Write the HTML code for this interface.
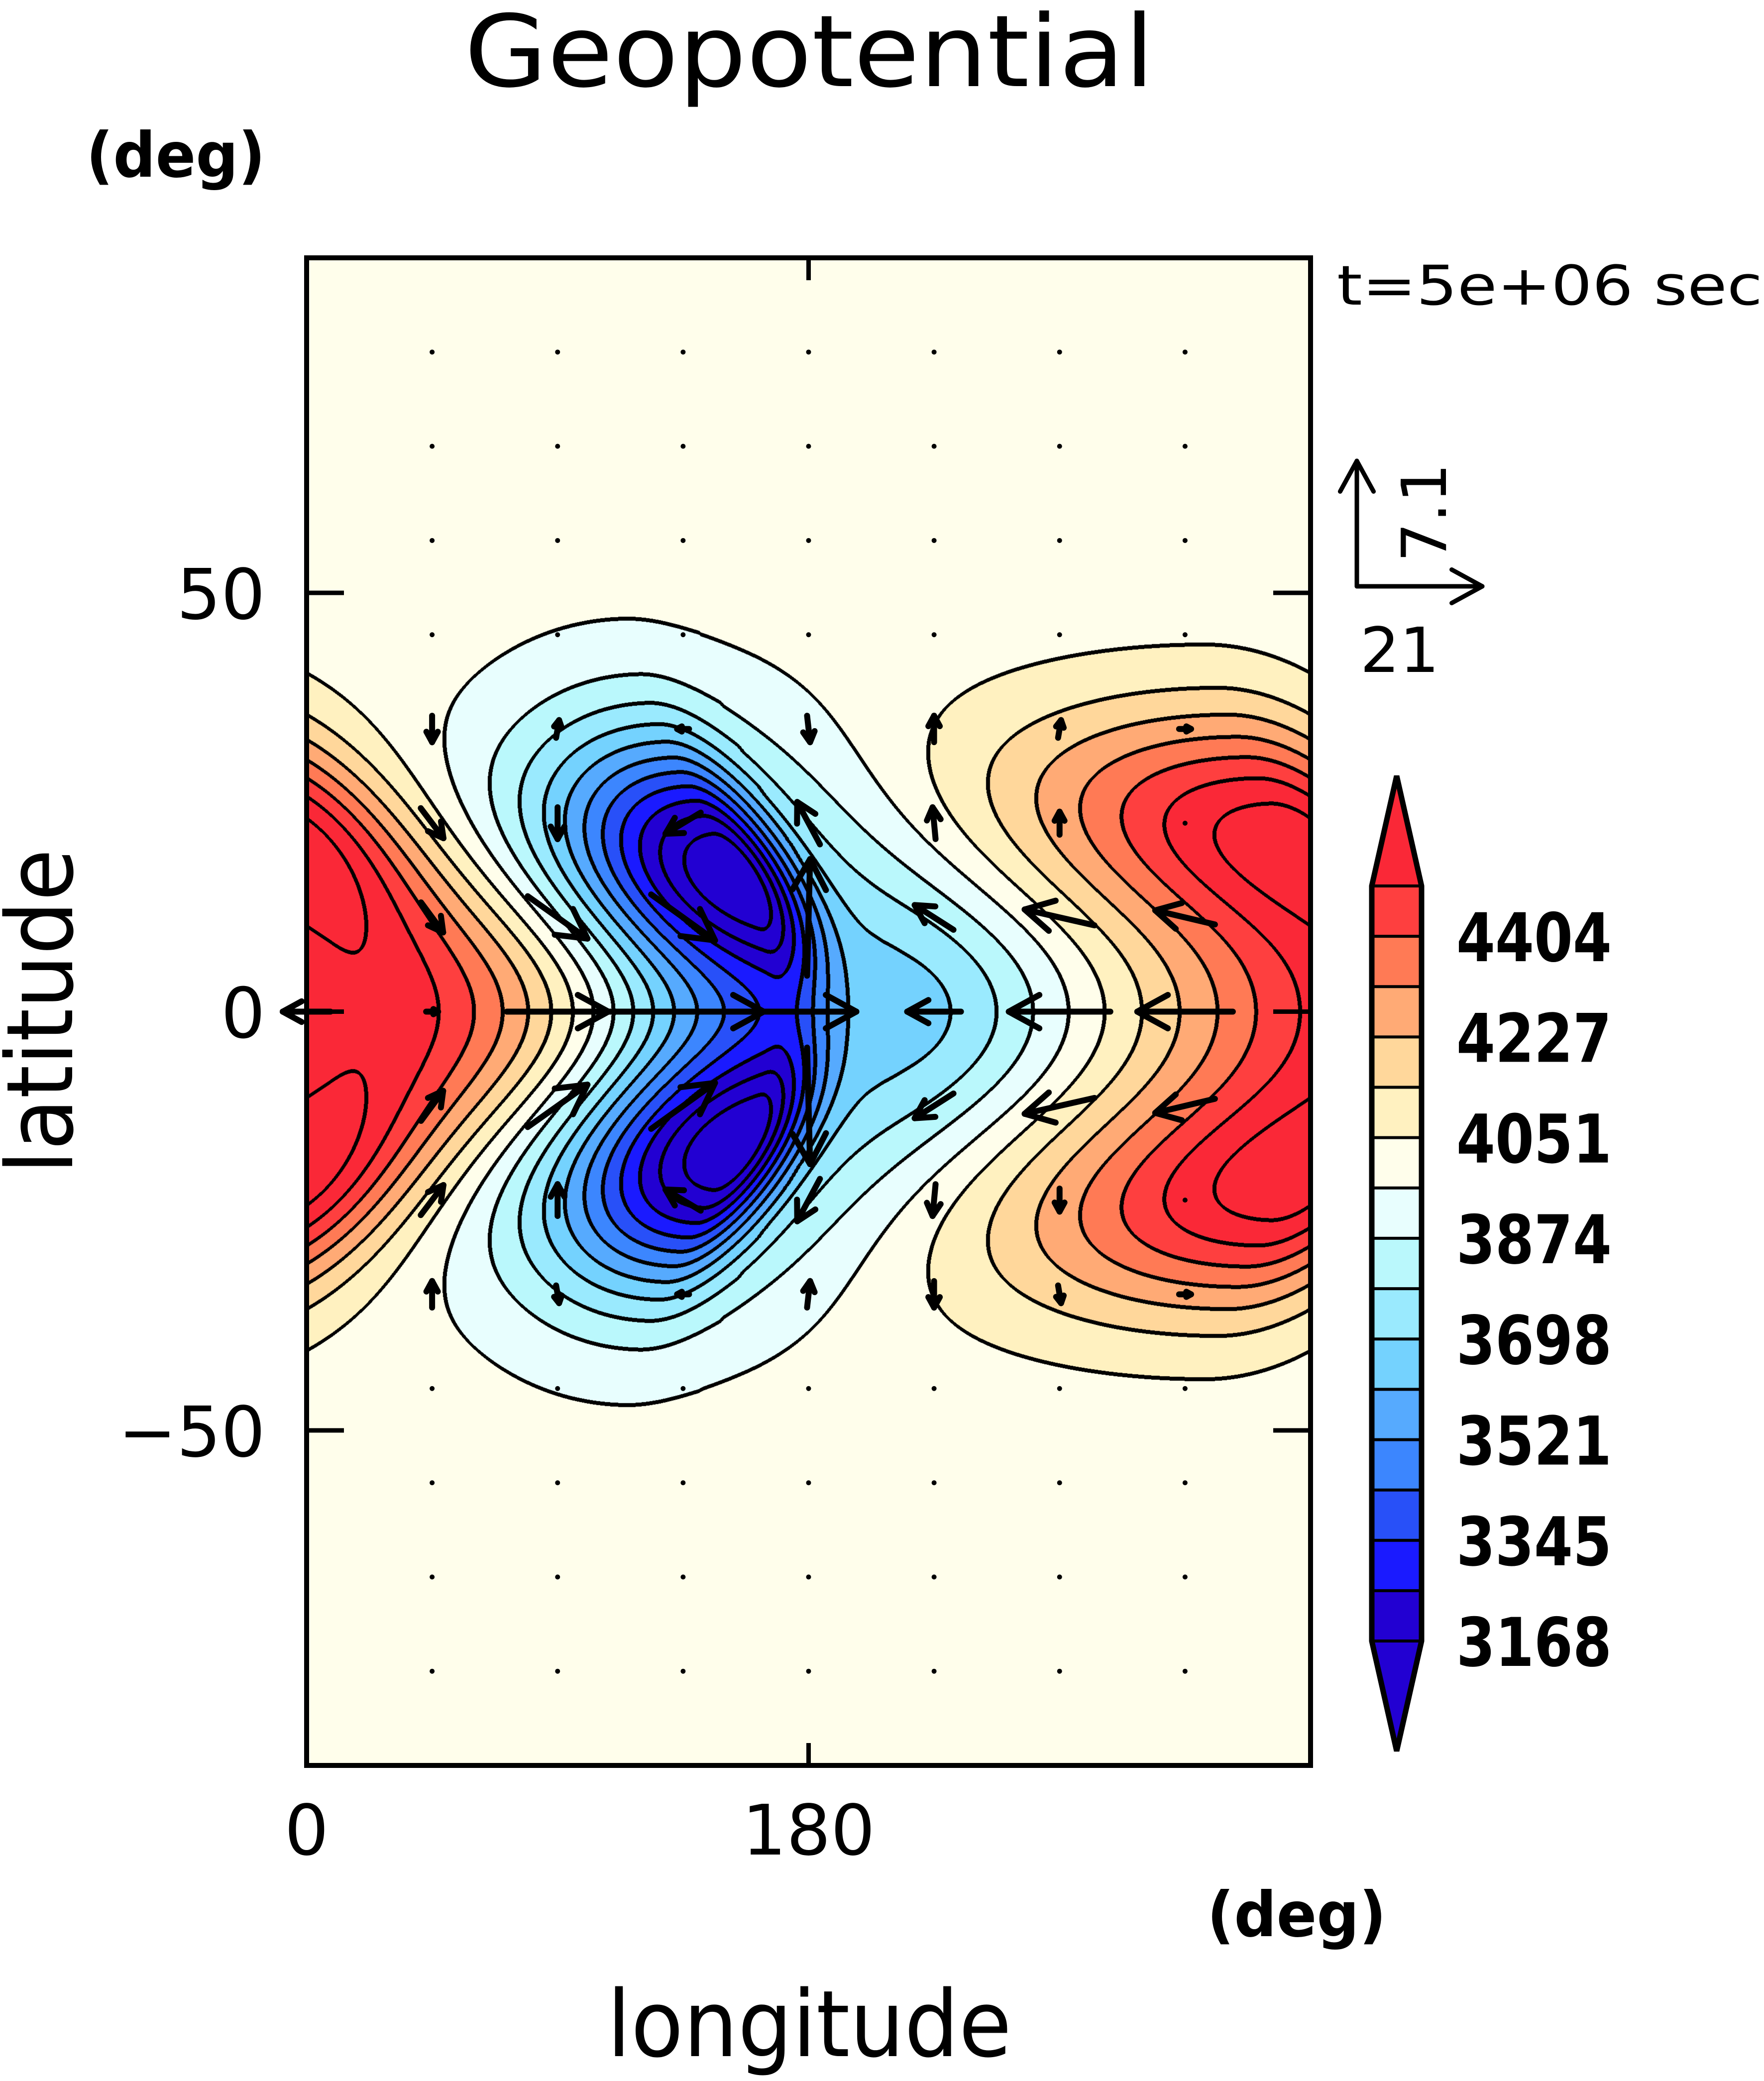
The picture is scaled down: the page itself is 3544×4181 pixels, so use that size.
<!DOCTYPE html>
<html><head><meta charset="utf-8">
<style>
html,body{margin:0;padding:0;background:#fff;}
#wrap{position:relative;width:3544px;height:4181px;overflow:hidden;background:#fff;}
#field{position:absolute;left:616px;top:518px;width:2017px;height:3029px;}
#ov{position:absolute;left:0;top:0;}
text{font-family:"DejaVu Sans","Liberation Sans",sans-serif;fill:#000;}
</style></head>
<body>
<div id="wrap">
<canvas id="field"></canvas>
<svg id="ov" width="3544" height="4181">
  <g id="vectors"></g>
  <rect x="616" y="518" width="2017" height="3029" fill="none" stroke="#000" stroke-width="10"/>
  <g id="ticks"></g>
  <text x="1626" y="173" font-size="200" text-anchor="middle" textLength="1386" lengthAdjust="spacingAndGlyphs">Geopotential</text>
  <text x="173" y="355" font-size="125" font-weight="bold" textLength="360" lengthAdjust="spacingAndGlyphs">(deg)</text>
  <text x="2686" y="612" font-size="110" textLength="855" lengthAdjust="spacingAndGlyphs">t=5e+06 sec</text>
  <text x="2425" y="3890" font-size="125" font-weight="bold" textLength="360" lengthAdjust="spacingAndGlyphs">(deg)</text>
  <text x="1626" y="4131" font-size="185" text-anchor="middle" textLength="813" lengthAdjust="spacingAndGlyphs">longitude</text>
  <text transform="translate(145,2032) rotate(-90)" font-size="185" text-anchor="middle" textLength="653" lengthAdjust="spacingAndGlyphs">latitude</text>
  <g id="reflegend"></g>
  <g id="cbar"></g>
</svg>
</div>
<script>
// ---- data ----
const BASE = 4000;
const TILT = 60, TILT_S = 22;
const blobLon  = [168, 170, 215, 30, 14];
const blobLat  = [15, 25, 0, 0, 22];
const blobAmp  = [-850, -210, -330, 482, 550];
const blobSLonW = [45, 35, 25, 55, 65];
const blobSLonE = [15, 45, 40, 52, 30];
const blobSLat = [10.5, 11, 12, 12, 10];
const bandLevels = [3168,3256,3345,3433,3521,3610,3698,3786,3874,3963,4051,4139,4227,4316,4404,4492];
const extraContours = [3080, 4580];
const bandColors = ["#2200d2","#2200d2","#1a1aff","#2850f8","#3c86fe","#56aafe","#74d2fe","#9aeafe","#baf8fc","#e8fefe","#fffeeb","#fff1c0","#ffd79b","#ffaa75","#ff7a55","#fe3f3f","#fa2837"];
const cbarLabels = ["4404","4227","4051","3874","3698","3521","3345","3168"];
const xTickVals = [0, 180];
const xTickLabels = ["0","180"];
const yTickVals = [50, 0, -50];
const yTickLabels = ["50","0","\u221250"];
const gridLons = [0,45,90,135,180,225,270,315];
const gridLats = [78.75,67.5,56.25,45,33.75,22.5,11.25,0];
// vectors (northern hemisphere + equator); southern mirrored with v negated
const vecLon = [0,45,90,135,180,225,270,315, 45,90,135,180,225,270,315, 45,90,135,180,225,270,315, 45,90,135,180,225,270,315];
const vecLat = [0,0,0,0,0,0,0,0, 11.25,11.25,11.25,11.25,11.25,11.25,11.25, 22.5,22.5,22.5,22.5,22.5,22.5,22.5, 33.75,33.75,33.75,33.75,33.75,33.75,33.75];
const vecU   = [-8,2,17,27,16,-9,-17,-16, 3.7,10,10.7,0.5,-6.5,-11.7,-10, 3.8,0,-5.9,-3.8,-0.5,0,0, 0,0.5,-2,0.5,0,0.5,2];
const vecV   = [0,0,0,0,0,0,0,0, -1.7,-2.4,-2.6,6.6,1.4,0.9,0.8, -1.7,-1.8,-1.2,2.4,1.8,1.3,-0.5, -1.5,1,0,-1.5,1.5,1,0];
const refU = 21, refV = 7.1;

// ---- axes ----
const PX0=616, PY0=518, PW=2017, PH=3029;
function xScale(lon){return PX0+lon/360*PW;}
function yScale(lat){return PY0+(90-lat)/180*PH;}
const uPix = 252/refU, vPix = 252/refV;

// ---- field ----
function field(lon,lat){
  let z=BASE;
  const lonT = lon + TILT*(1-Math.exp(-lat*lat/(2*TILT_S*TILT_S)));
  for(let i=0;i<blobLon.length;i++){
    let dl=lonT-blobLon[i]; dl=((dl%360)+540)%360-180;
    const sx = dl<0 ? blobSLonW[i] : blobSLonE[i], sy=blobSLat[i];
    const ex=dl*dl/(2*sx*sx);
    if(blobLat[i]===0){
      z+=blobAmp[i]*Math.exp(-ex-lat*lat/(2*sy*sy));
    } else {
      let dy=lat-blobLat[i]; z+=blobAmp[i]*Math.exp(-ex-dy*dy/(2*sy*sy));
      dy=lat+blobLat[i]; z+=blobAmp[i]*Math.exp(-ex-dy*dy/(2*sy*sy));
    }
  }
  return z;
}
(function(){
  const cv=document.getElementById('field'); cv.width=PW; cv.height=PH;
  const ctx=cv.getContext('2d');
  const GS=4, gw=Math.ceil(PW/GS)+2, gh=Math.ceil(PH/GS)+2;
  const g=new Float32Array(gw*gh);
  for(let j=0;j<gh;j++)for(let i=0;i<gw;i++){
    g[j*gw+i]=field(i*GS/PW*360, 90-j*GS/PH*180);
  }
  const allLv=extraContours.concat(bandLevels).sort((a,b)=>a-b);
  const ci=new Uint8Array(PW*PH), li=new Uint8Array(PW*PH);
  for(let y=0;y<PH;y++){
    const gy=y/GS, j=Math.floor(gy), fy=gy-j;
    for(let x=0;x<PW;x++){
      const gx=x/GS, i=Math.floor(gx), fx=gx-i;
      const a=g[j*gw+i], b=g[j*gw+i+1], c=g[(j+1)*gw+i], d=g[(j+1)*gw+i+1];
      const z=(a*(1-fx)+b*fx)*(1-fy)+(c*(1-fx)+d*fx)*fy;
      let k=0; while(k<bandLevels.length && z>bandLevels[k]) k++;
      ci[y*PW+x]=k;
      let m=0; while(m<allLv.length && z>allLv[m]) m++;
      li[y*PW+x]=m;
    }
  }
  const rgb=bandColors.map(h=>[parseInt(h.substr(1,2),16),parseInt(h.substr(3,2),16),parseInt(h.substr(5,2),16)]);
  const img=ctx.createImageData(PW,PH), D=img.data, dd=4;
  for(let y=0;y<PH;y++)for(let x=0;x<PW;x++){
    const p=y*PW+x, v=li[p];
    let line=false;
    if(x+dd<PW && li[p+dd]!==v) line=true;
    else if(x-dd>=0 && li[p-dd]!==v) line=true;
    else if(y+dd<PH && li[p+dd*PW]!==v) line=true;
    else if(y-dd>=0 && li[p-dd*PW]!==v) line=true;
    const q=p*4;
    if(line){D[q]=0;D[q+1]=0;D[q+2]=0;}
    else{const cc=rgb[ci[p]];D[q]=cc[0];D[q+1]=cc[1];D[q+2]=cc[2];}
    D[q+3]=255;
  }
  ctx.putImageData(img,0,0);
})();

const NS='http://www.w3.org/2000/svg';
function mk(tag,attrs,parent){const e=document.createElementNS(NS,tag);for(const k in attrs)e.setAttribute(k,attrs[k]);parent.appendChild(e);return e;}
function arrow(parent,x1,y1,x2,y2,name,w){
  const g=mk('g',{},parent);
  
  
  mk('line',{x1:x1,y1:y1,x2:x2,y2:y2,stroke:'#000','stroke-width':w,'stroke-linecap':'round'},g);
  const L=Math.hypot(x2-x1,y2-y1), h=Math.min(70,0.45*L), ang=Math.atan2(y2-y1,x2-x1), sp=0.5;
  for(const s of [-1,1]){
    const a=ang+Math.PI+s*sp;
    mk('line',{x1:x2,y1:y2,x2:x2+h*Math.cos(a),y2:y2+h*Math.sin(a),stroke:'#000','stroke-width':w,'stroke-linecap':'round'},g);
  }
}
// ---- vectors ----
(function(){
  const vg=document.getElementById('vectors');
  const map={};
  for(let i=0;i<vecLon.length;i++){
    map[vecLon[i]+'_'+vecLat[i]]=[vecU[i],vecV[i]];
    if(vecLat[i]>0) map[vecLon[i]+'_'+(-vecLat[i])]=[vecU[i],-vecV[i]];
  }
  const lats=gridLats.concat(gridLats.filter(l=>l>0).map(l=>-l));
  for(const lat of lats)for(const lon of gridLons){
    const uv=map[lon+'_'+lat]||[0,0];
    const cx=xScale(lon), cy=yScale(lat);
    const dx=uv[0]*uPix, dy=-uv[1]*vPix, L=Math.hypot(dx,dy);
    if(L<18){
      if(lon===0) continue;
      const d=mk('circle',{cx:cx,cy:cy,r:5,fill:'#000'},vg);
      
      
    } else {
      arrow(vg,cx-dx/2,cy-dy/2,cx+dx/2,cy+dy/2,'wind-arrow',12);
    }
  }
})();
// ---- ticks ----
(function(){
  const tg=document.getElementById('ticks');
  for(let i=0;i<xTickVals.length;i++){
    const x=xScale(xTickVals[i]);
    if(xTickVals[i]>0&&xTickVals[i]<360){
      mk('line',{x1:x,y1:PY0,x2:x,y2:PY0+45,stroke:'#000','stroke-width':9},tg);
      mk('line',{x1:x,y1:PY0+PH,x2:x,y2:PY0+PH-45,stroke:'#000','stroke-width':9},tg);
    }
    const t=mk('text',{x:x,y:3726,'font-size':140,'text-anchor':'middle'},tg);
    t.textContent=xTickLabels[i];
    
    
  }
  for(let i=0;i<yTickVals.length;i++){
    const y=yScale(yTickVals[i]);
    mk('line',{x1:PX0,y1:y,x2:PX0+75,y2:y,stroke:'#000','stroke-width':9},tg);
    mk('line',{x1:PX0+PW,y1:y,x2:PX0+PW-75,y2:y,stroke:'#000','stroke-width':9},tg);
    const t=mk('text',{x:533,y:y+52,'font-size':140,'text-anchor':'end'},tg);
    t.textContent=yTickLabels[i];
    
    
  }
})();
// ---- reference vector legend ----
(function(){
  const rg=document.getElementById('reflegend');
  const x0=2726,y0=1178;
  arrow(rg,x0,y0,x0,y0-refV*vPix,'ref-arrow-v',9);
  arrow(rg,x0,y0,x0+refU*uPix,y0,'ref-arrow-u',9);
  const tv=mk('text',{transform:'translate(2905,1030) rotate(-90)','font-size':125,'text-anchor':'middle'},rg);
  tv.textContent=String(refV);
  
  
  const tu=mk('text',{x:2812,y:1350,'font-size':125,'text-anchor':'middle'},rg);
  tu.textContent=String(refU);
  
  
})();
// ---- colorbar ----
(function(){
  const cg=document.getElementById('cbar');
  const xl=2756,xr=2856,xm=2806,top=1780,bot=3297,ta=1559,ba=3518;
  const n=bandLevels.length-1, bh=(bot-top)/n;
  const tri1=mk('polygon',{points:`${xl},${top} ${xm},${ta} ${xr},${top}`,fill:bandColors[bandColors.length-1]},cg);
  
  
  const tri2=mk('polygon',{points:`${xl},${bot} ${xm},${ba} ${xr},${bot}`,fill:bandColors[0]},cg);
  
  
  for(let k=0;k<n;k++){
    const y=bot-(k+1)*bh;
    const r=mk('rect',{x:xl,y:y,width:xr-xl,height:bh,fill:bandColors[k+1]},cg);
    
    
  }
  for(let k=0;k<=n;k++){
    const y=bot-k*bh;
    mk('line',{x1:xl,y1:y,x2:xr,y2:y,stroke:'#000','stroke-width':6},cg);
  }
  mk('polygon',{points:`${xl},${top} ${xm},${ta} ${xr},${top} ${xr},${bot} ${xm},${ba} ${xl},${bot}`,fill:'none',stroke:'#000','stroke-width':11,'stroke-linejoin':'miter'},cg);
  for(let i=0;i<cbarLabels.length;i++){
    const lv=+cbarLabels[i];
    let k=0; while(k<bandLevels.length && Math.abs(bandLevels[k]-lv)>2) k++;
    const y=bot-k*bh;
    const t=mk('text',{x:2926,y:y+50,'font-size':135,'font-weight':'bold',textLength:312,lengthAdjust:'spacingAndGlyphs'},cg);
    t.textContent=cbarLabels[i];
    
    
  }
})();
</script>
</body></html>
